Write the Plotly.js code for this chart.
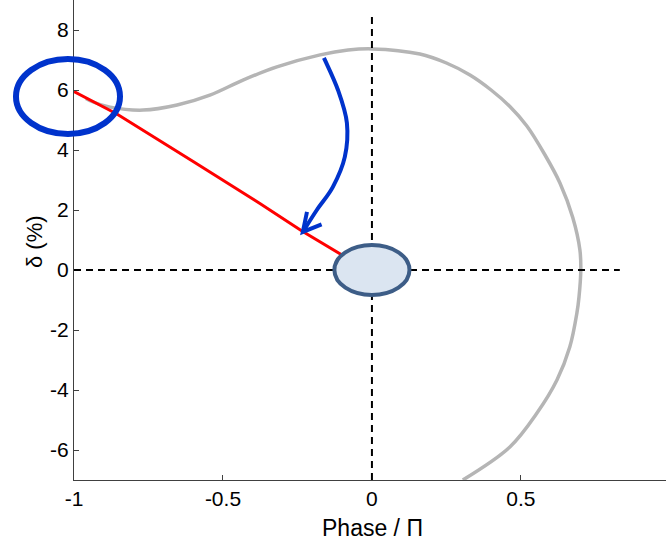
<!DOCTYPE html>
<html>
<head>
<meta charset="utf-8">
<script src="https://cdn.plot.ly/plotly-3.0.1.min.js"></script>
<style>
  html, body { margin: 0; padding: 0; background: #fff; }
  #chart { width: 666px; height: 549px; }
</style>
</head>
<body>
<div id="chart"></div>
<script>
// ---- data ----
const grayX = [-0.96, -0.936, -0.879, -0.768, -0.654, -0.544, -0.433, -0.319, -0.174, -0.08, 0, 0.161, 0.25, 0.329, 0.4, 0.463, 0.52, 0.58, 0.631, 0.674, 0.698, 0.701, 0.695, 0.688, 0.664, 0.621, 0.554, 0.463, 0.305];
const grayY = [5.72, 5.6, 5.43, 5.33, 5.5, 5.83, 6.33, 6.77, 7.17, 7.33, 7.37, 7.2, 6.9, 6.5, 6.0, 5.45, 4.8, 3.85, 2.9, 1.75, 0.67, 0, -0.9, -1.43, -2.57, -3.67, -4.77, -5.9, -7.0];

const redX = [-1.0, -0.856, -0.6, -0.376, -0.235, -0.114, -0.05];
const redY = [5.95, 5.2, 3.62, 2.22, 1.3, 0.57, 0.2];

const xTickVals = [-1, -0.5, 0, 0.5, 1];
const xTickText = ['-1', '-0.5', '0', '0.5', '1'];
const yTickVals = [-6, -4, -2, 0, 2, 4, 6, 8];
const yTickText = ['-6', '-4', '-2', '0', '2', '4', '6', '8'];

// annotation arrow (data coordinates)
const arrowX = [-0.161, -0.114, -0.084, -0.091, -0.131, -0.185, -0.232];
const arrowY = [7.07, 6.0, 4.9, 3.77, 2.77, 2.0, 1.27];
const headX = [-0.218, -0.232, -0.169];
const headY = [1.94, 1.27, 1.52];

// ---- helpers ----
function catmullPath(xs, ys) {
  let d = `M ${xs[0]},${ys[0]}`;
  const n = xs.length;
  for (let i = 0; i < n - 1; i++) {
    const x0 = xs[Math.max(i - 1, 0)], y0 = ys[Math.max(i - 1, 0)];
    const x1 = xs[i], y1 = ys[i];
    const x2 = xs[i + 1], y2 = ys[i + 1];
    const x3 = xs[Math.min(i + 2, n - 1)], y3 = ys[Math.min(i + 2, n - 1)];
    const c1x = x1 + (x2 - x0) / 6, c1y = y1 + (y2 - y0) / 6;
    const c2x = x2 - (x3 - x1) / 6, c2y = y2 - (y3 - y1) / 6;
    d += ` C ${c1x},${c1y} ${c2x},${c2y} ${x2},${y2}`;
  }
  return d;
}

const font = "'Liberation Sans', Arial, Helvetica, sans-serif";

const traces = [
  {
    x: grayX, y: grayY, type: 'scatter', mode: 'lines',
    line: { color: '#b5b5b5', width: 3.5, shape: 'spline', smoothing: 1.0 },
    hoverinfo: 'skip'
  },
  {
    x: redX, y: redY, type: 'scatter', mode: 'lines',
    line: { color: '#ff0000', width: 3 },
    hoverinfo: 'skip'
  }
];

const shapes = [
  // dashed reference lines
  { type: 'line', xref: 'x', yref: 'y', x0: 0, x1: 0, y0: -7, y1: 8.57,
    line: { color: '#000', width: 2, dash: '7px,5px' } },
  { type: 'line', xref: 'x', yref: 'y', x0: -1, x1: 0.832, y0: 0, y1: 0,
    line: { color: '#000', width: 2, dash: '7px,5px' } },
  // filled ellipse at origin
  { type: 'circle', xref: 'x', yref: 'y', x0: -0.126, x1: 0.126, y0: -0.833, y1: 0.833,
    fillcolor: '#dbe5f1', line: { color: '#3d5d87', width: 4 } },
  // blue highlight ellipse (paper coords so it is not clipped)
  { type: 'circle', xref: 'paper', yref: 'paper', x0: -0.098, x1: 0.0777, y0: 0.7208, y1: 0.877,
    fillcolor: 'rgba(0,0,0,0)', line: { color: '#0033cc', width: 6 } },
  // curved arrow
  { type: 'path', xref: 'x', yref: 'y', path: catmullPath(arrowX, arrowY),
    line: { color: '#0033cc', width: 4 } },
  { type: 'path', xref: 'x', yref: 'y',
    path: `M ${headX[0]},${headY[0]} L ${headX[1]},${headY[1]} L ${headX[2]},${headY[2]}`,
    line: { color: '#0033cc', width: 4 } }
];

const layout = {
  width: 666, height: 549,
  margin: { l: 74, r: 0, t: 0, b: 69, pad: 0 },
  paper_bgcolor: '#fff', plot_bgcolor: '#fff',
  showlegend: false,
  font: { family: font, size: 21, color: '#000' },
  xaxis: {
    range: [-1, 0.987], tickvals: xTickVals, ticktext: xTickText,
    ticks: 'inside', ticklen: 5, tickcolor: '#404040', tickwidth: 1,
    showline: true, linecolor: '#404040', linewidth: 1,
    showgrid: false, zeroline: false, mirror: false,
    tickfont: { family: font, size: 21, color: '#000' }
  },
  yaxis: {
    range: [-7, 9], tickvals: yTickVals, ticktext: yTickText,
    ticks: 'inside', ticklen: 5, tickcolor: '#404040', tickwidth: 1,
    showline: true, linecolor: '#404040', linewidth: 1,
    showgrid: false, zeroline: false, mirror: false,
    tickfont: { family: font, size: 21, color: '#000' }
  },
  shapes: shapes,
  annotations: [
    { text: 'Phase / Π', xref: 'paper', yref: 'paper',
      x: (372 - 74) / 592, y: (480 - 528) / 480, xanchor: 'center', yanchor: 'middle',
      showarrow: false, font: { family: font, size: 23, color: '#000' } },
    { text: 'δ (%)', xref: 'paper', yref: 'paper',
      x: (34 - 74) / 592, y: (480 - 242) / 480, xanchor: 'center', yanchor: 'middle',
      textangle: -90, showarrow: false, font: { family: font, size: 22, color: '#000' } }
  ]
};

Plotly.newPlot('chart', traces, layout, { staticPlot: true, displayModeBar: false });
</script>
</body>
</html>
